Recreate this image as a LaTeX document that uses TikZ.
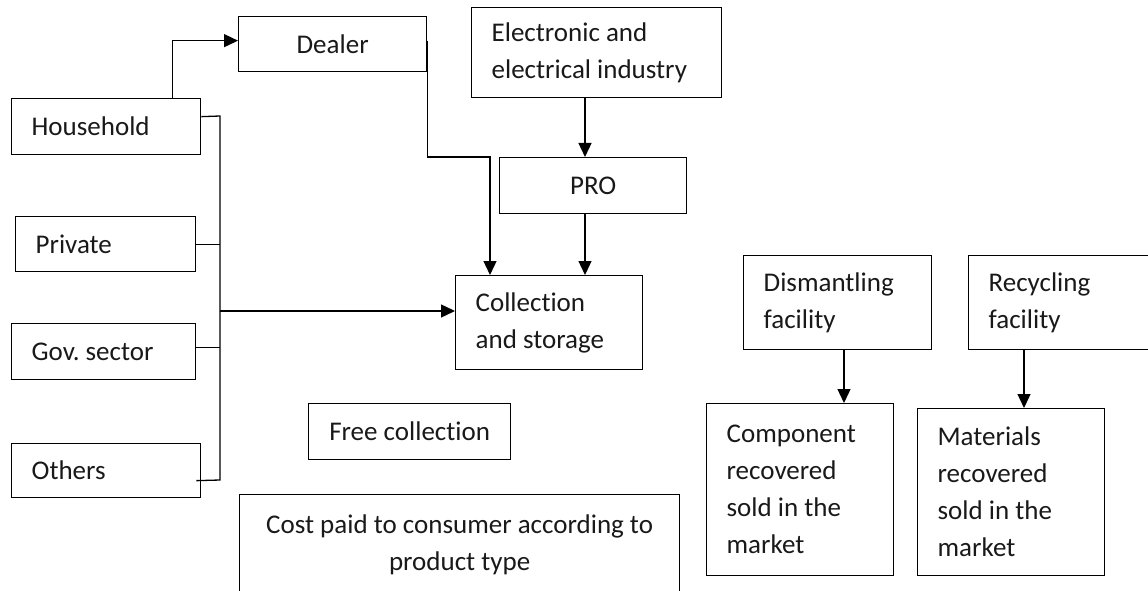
\documentclass[tikz,border=0pt]{standalone}
\usepackage{fontspec}
\setmainfont{Carlito}[Ligatures=NoCommon]
\usetikzlibrary{arrows.meta}
\tikzset{
    box/.style={draw, line width=1.3pt, inner xsep=20pt, inner ysep=0pt, anchor=north west,
        font=\fontsize{27}{37}\selectfont, text=black!90},
    lbox/.style={box, align=flush left},
    cbox/.style={box, align=flush center},
    link/.style={line width=1.3pt},
    arr/.style={link, -{Triangle[length=14pt,width=13pt]}}
}
\begin{document}
\begin{tikzpicture}[x=1pt,y=-1pt]
        \useasboundingbox (0,0) rectangle (1148,591);
        \node[lbox, text width=149, minimum height=56] (house) at (11,98) {Household};
        \node[lbox, text width=140, minimum height=55] (priv) at (15,216) {Private};
        \node[lbox, text width=144, minimum height=56] (gov) at (11,323) {Gov.\ sector};
        \node[lbox, text width=149, minimum height=54] (others) at (11,443) {Others};
        \node[cbox, text width=148, minimum height=55] (dealer) at (238,16) {Dealer};
        \node[lbox, text width=210, minimum height=90] (elec) at (471,7) {Electronic and\\\mbox{electrical industry}};
        \node[cbox, text width=147, minimum height=56] (pro) at (499,157) {PRO};
        \node[lbox, text width=147, minimum height=94] (coll) at (455,275) {Collection\\\mbox{and storage}};
        \node[cbox, text width=172, inner xsep=15pt, minimum height=56] (free) at (308,403) {\mbox{Free collection}};
        \node[cbox, text width=400, inner ysep=20pt] (cost) at (239,494) {\mbox{Cost paid to consumer according to}\\product type};
        \node[lbox, text width=148, minimum height=94] (dism) at (743,255) {Dismantling\\facility};
        \node[lbox, text width=160, minimum height=94] (recy) at (968,255) {Recycling\\facility};
        \node[lbox, text width=147, minimum height=172] (comp) at (706,403) {Component\\recovered\\\mbox{sold in the}\\market};
        \node[lbox, text width=147, minimum height=167] (mat) at (917,408) {Materials\\recovered\\\mbox{sold in the}\\market};
        \coordinate (bustop) at (220,116);
        \coordinate (busend) at (220,480);
        \coordinate (bus) at (220,311);
        \coordinate (dbend) at (490,157);
        \coordinate (procol) at (585,0);
        \coordinate (dismcol) at (844,0);
        \coordinate (recycol) at (1024,0);
        \draw[arr] ([xshift=-29pt]house.north east) |- ([yshift=3.5pt]dealer.west);
        \draw[link] ([yshift=10pt]house.east) -- (bustop) -- (busend) -- ([yshift=-10pt,xshift=-5pt]others.east);
        \draw[link] (priv.east) -- (priv.east -| bustop);
        \draw[link] ([yshift=4pt]gov.east) -- ([yshift=4pt]gov.east -| bustop);
        \draw[arr] (bus) -- (bus -| coll.west);
        \draw[arr] ([yshift=3.5pt]dealer.east) |- (dbend) -- (dbend |- coll.north);
        \draw[arr] (elec.south -| procol) -- (pro.north -| procol);
        \draw[arr] (pro.south -| procol) -- (coll.north -| procol);
        \draw[arr] (dism.south -| dismcol) -- (comp.north -| dismcol);
        \draw[arr] (recy.south -| recycol) -- (mat.north -| recycol);
\end{tikzpicture}
\end{document}
